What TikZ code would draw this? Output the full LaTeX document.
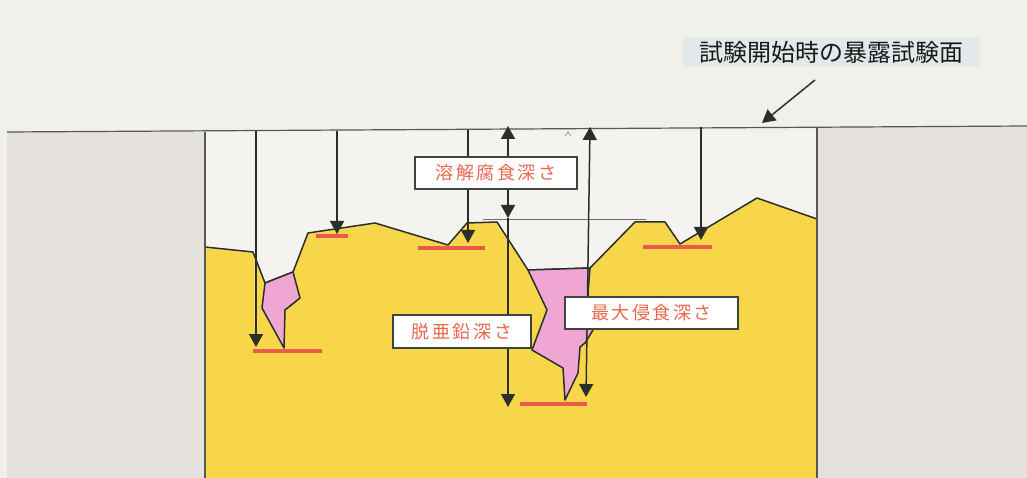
\documentclass[tikz,border=0pt]{standalone}
\usepackage{fontspec}
\newfontfamily\jp{Noto Sans CJK JP}
\newfontfamily\jplabel[LetterSpace=14]{Noto Sans CJK JP}
\usetikzlibrary{arrows.meta}
\definecolor{paper}{HTML}{F2F0EA}
\definecolor{cavity}{HTML}{F5F3EF}
\definecolor{wallgray}{HTML}{E5E1DD}
\definecolor{brass}{HTML}{F8D64A}
\definecolor{dezinc}{HTML}{F0A6D2}
\definecolor{depthbar}{HTML}{EC5A4E}
\definecolor{ink}{HTML}{2A2F2B}
\definecolor{labeltext}{HTML}{E8684E}
\definecolor{titlebg}{HTML}{E3E9EB}
\tikzset{
  outline/.style={draw=ink, line width=1.5pt, line join=round},
  surface/.style={draw=ink!80, line width=1.2pt},
  depth/.style={draw=ink, line width=1.5pt, -{Triangle[width=14pt,length=13pt]}},
  depthboth/.style={draw=ink, line width=1.5pt, {Triangle[width=14pt,length=13pt]}-{Triangle[width=14pt,length=13pt]}},
  bar/.style={draw=depthbar, line width=3.5pt},
  labelbox/.style={draw=ink!90, fill=white, line width=1.4pt, inner sep=0pt,
    minimum height=32pt, text=labeltext, font=\jplabel\fontsize{18}{18}\selectfont},
}
\begin{document}
\begin{tikzpicture}[x=1pt,y=-1pt]
\useasboundingbox (0,0) rectangle (1027,478);
% background and specimen holder walls
\fill[paper] (0,0) rectangle (1027,478);
\fill[cavity] (205,132) rectangle (817,478);
\fill[wallgray] (7,132) rectangle (205,478);
\fill[wallgray] (817,127) rectangle (1027,478);

% corroded brass cross-section
\fill[brass] (205,478) -- (205,247) -- (253,252) -- (265,283) -- (293,272) -- (308,233)
  -- (375,223) -- (448,245) -- (467,223) -- (497,222) -- (528,270) -- (590,268)
  -- (635,222) -- (665,222) -- (680,244) -- (757,198) -- (817,219) -- (817,478) -- cycle;
\draw[outline] (205,478) -- (205,247) -- (253,252) -- (265,283) -- (293,272) -- (308,233)
  -- (375,223) -- (448,245) -- (467,223) -- (497,222) -- (528,270) -- (590,268)
  -- (635,222) -- (665,222) -- (680,244) -- (757,198) -- (817,219) -- (817,478);

% dezincified zones
\filldraw[fill=dezinc, outline] (265,283) -- (293,272) -- (300,298) -- (285,310)
  -- (284,348) -- (262,308) -- cycle;
\filldraw[fill=dezinc, outline] (528,270) -- (590,268) -- (588,293) -- (593,330)
  -- (585,343) -- (580,347) -- (578,373) -- (565,400) -- (563,368) -- (532,350)
  -- (547,310) -- cycle;

% initial exposed surface and holder edges
\draw[surface] (7,132) -- (1027,126);
\draw[surface] (205,132) -- (205,478);
\draw[surface] (817,127) -- (817,478);
\draw[draw=ink!70, line width=0.8pt] (483,219) -- (646,219);
\draw[draw=ink!60, line width=0.6pt] (565,136) -- (568,132) -- (571,136);

% depth markers
\draw[bar] (253,351) -- (322,351);
\draw[bar] (316,236) -- (348,236);
\draw[bar] (418,248) -- (485,248);
\draw[bar] (520,404) -- (587,404);
\draw[bar] (643,247) -- (712,247);

% measurement arrows
\coordinate (p1t) at (256,131); \coordinate (p1b) at (256,347);
\coordinate (p2t) at (337,131); \coordinate (p2b) at (337,234);
\coordinate (p3t) at (468,130); \coordinate (p3b) at (468,243);
\coordinate (dtop) at (508,126); \coordinate (dmid) at (508,218); \coordinate (dbot) at (508,407);
\coordinate (mtop) at (590,127); \coordinate (mbot) at (586,397);
\coordinate (p6t) at (701,127); \coordinate (p6b) at (701,240);
\coordinate (callout) at (815,80); \coordinate (surfpt) at (762,123);

\draw[depth] (p1t) -- (p1b);
\draw[depth] (p2t) -- (p2b);
\draw[depth] (p3t) -- (p3b);
\draw[depthboth] (dtop) -- (dmid);
\draw[depth] (dmid) -- (dbot);
\draw[depthboth] (mtop) -- (mbot);
\draw[depth] (p6t) -- (p6b);
\draw[depth] (callout) -- (surfpt);

% labels
\node[labelbox, minimum width=162pt] (dissolve) at (496,173) {溶解腐食深さ};
\node[labelbox, minimum width=138pt, minimum height=33pt] (dezlabel) at (462,331.5) {脱亜鉛深さ};
\node[labelbox, minimum width=173pt] (maxlabel) at (651.5,313) {最大侵食深さ};
\node[fill=titlebg, inner sep=0pt, minimum width=297pt, minimum height=30pt,
  text=black!90, font=\jp\fontsize{24}{24}\selectfont] (title) at (831,52) {試験開始時の暴露試験面};
\end{tikzpicture}
\end{document}
